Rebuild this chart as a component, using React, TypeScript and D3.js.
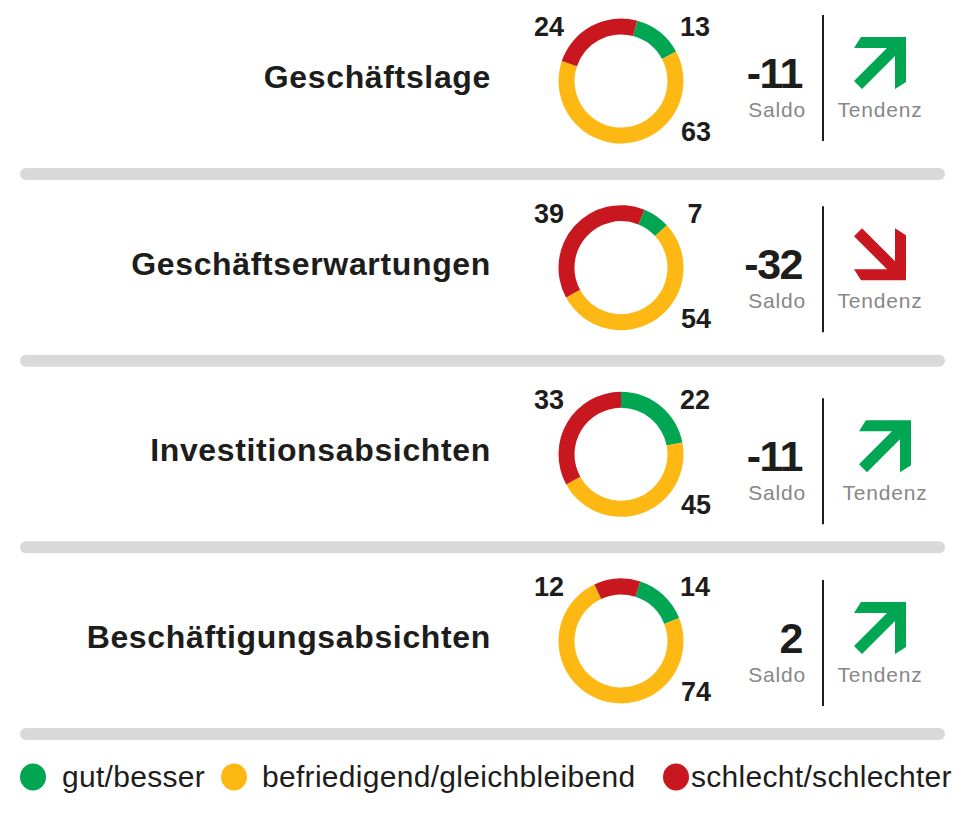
import React from "react";
import * as d3 from "d3";

// ---- data ----
const categories = ["Geschäftslage", "Geschäftserwartungen", "Investitionsabsichten", "Beschäftigungsabsichten"];
const gut = [13, 7, 22, 14];
const befriedigend = [63, 54, 45, 74];
const schlecht = [24, 39, 33, 12];
const saldo = ["-11", "-32", "-11", "2"];
const tendenz = ["up", "down", "up", "up"];
const seriesNames = ["gut/besser", "befriedigend/gleichbleibend", "schlecht/schlechter"];

// ---- styling / layout ----
const COLORS = ["#00a651", "#fdb813", "#c8171e"];
const startDeg = [15, 22, 0, 18];
const blockDy = [-3, 1.5, 7, 2];
const blockDx = [0, 0, 5, 0];
const W = 964, H = 820;
const FONT = "'Liberation Sans', Arial, Helvetica, sans-serif";

function arrowPath(kind: string, tipX: number, tipY: number) {
  // symmetric arrow, tip at origin, pointing up-right (u right, v down)
  const pts: [number, number][] = [
    [0, 0], [-45, 0], [-52, 11], [-19, 11], [-52, 44], [-44, 52], [-11, 19], [-11, 52], [0, 45],
  ];
  const line = d3.line();
  const mapped = pts.map(([u, v]) => [tipX + u, kind === "up" ? tipY + v : tipY - v] as [number, number]);
  return line(mapped) + "Z";
}

export default function App() {
  const rowY = d3.scaleLinear().domain([0, 3]).range([81, 641]);
  const arc = d3.arc<d3.PieArcDatum<number>>().innerRadius(46.5).outerRadius(62.5);
  const cx = 621;

  return (
    <svg width={W} height={H} style={{ position: "absolute", left: 0, top: 0, background: "#fff" }} fontFamily={FONT}>
      {categories.map((cat, i) => {
        const cy = rowY(i);
        const s = (startDeg[i] * Math.PI) / 180;
        const pie = d3.pie<number>().sort(null).startAngle(s).endAngle(s + 2 * Math.PI);
        const vals = [gut[i], befriedigend[i], schlecht[i]];
        const arcs = pie(vals);
        const lc = cy + blockDy[i];
        const dx = blockDx[i];
        const sepY = cy + 93;
        return (
          <g key={cat}>
            <text x={491} y={cy + 7} textAnchor="end" fontSize={32} fontWeight={700} fill="#1d1d1b" letterSpacing={0.65}>
              {cat}
            </text>
            <g transform={`translate(${cx},${cy})`}>
              {arcs.map((a, k) => (
                <path key={k} d={arc(a) || ""} fill={COLORS[k]} />
              ))}
              <text x={-72} y={-45} textAnchor="middle" fontSize={27} fontWeight={700} fill="#1d1d1b">{schlecht[i]}</text>
              <text x={74} y={-45} textAnchor="middle" fontSize={27} fontWeight={700} fill="#1d1d1b">{gut[i]}</text>
              <text x={75} y={60} textAnchor="middle" fontSize={27} fontWeight={700} fill="#1d1d1b">{befriedigend[i]}</text>
            </g>
            <text x={802} y={lc + 10} textAnchor="end" fontSize={43} fontWeight={700} fill="#1d1d1b" letterSpacing={-1.5}>
              {saldo[i]}
            </text>
            <text x={806} y={lc + 39} textAnchor="end" fontSize={21} fill="#878787" letterSpacing={0.8}>Saldo</text>
            <line x1={823} x2={823} y1={lc - 63} y2={lc + 63} stroke="#1d1d1b" strokeWidth={2} />
            <path d={arrowPath(tendenz[i], 906 + dx, tendenz[i] === "up" ? lc - 41 : lc + 11)} fill={tendenz[i] === "up" ? COLORS[0] : COLORS[2]} />
            <text x={880 + dx} y={lc + 39} textAnchor="middle" fontSize={21} fill="#878787" letterSpacing={0.8}>Tendenz</text>
            <rect x={20} y={sepY - 6} width={925} height={12} rx={6} fill="#d9d9d9" />
          </g>
        );
      })}
      {seriesNames.map((name, k) => {
        const lx = [33, 234, 676][k];
        return (
          <g key={name}>
            <ellipse cx={lx} cy={777} rx={13} ry={13.5} fill={COLORS[k]} />
            <text x={[62, 262, 691][k]} y={787} fontSize={30} fill="#1d1d1b" letterSpacing={0.3}>{name}</text>
          </g>
        );
      })}
    </svg>
  );
}
